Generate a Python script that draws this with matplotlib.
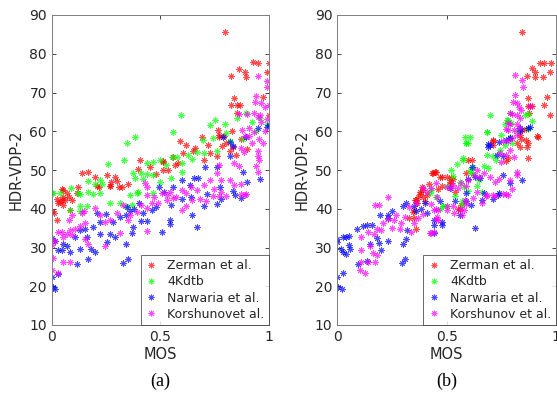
import numpy as np
import matplotlib.pyplot as plt

# (MOS, HDR-VDP-2) pairs, panel (a)
zerman_a = [(0.797,85.5),(0.863,76.1),(0.824,74.3),(0.89,75.2),(0.893,74.1),(0.925,77.8),(0.948,77.7),(0.999,77.7),(0.989,75.2),(0.974,68.8),(0.84,68.6),(0.827,66.7),(0.851,66.7),(0.867,66.7),(0.854,64.6),(1.0,64.2),(0.831,60.1),(0.764,60.3),(0.768,59.0),(0.794,58.8),(0.69,58.4),(0.59,57.6),(0.652,54.9),(0.728,54.3),(0.759,53.6),(0.848,53.9),(0.836,56.0),(0.784,56.2),(0.606,54.3),(0.56,53.4),(0.511,52.4),(0.396,50.3),(0.406,52.6),(0.514,50.0),(0.537,50.0),(0.583,51.7),(0.701,52.6),(0.141,49.1),(0.168,49.6),(0.2,48.1),(0.215,45.7),(0.253,48.7),(0.272,47.0),(0.291,48.3),(0.299,47.2),(0.311,45.7),(0.325,45.5),(0.268,46.0),(0.12,45.7),(0.049,45.1),(0.069,44.0),(0.081,43.1),(0.023,42.4),(0.0,39.4),(0.01,39.0),(0.03,41.4),(0.046,42.3),(0.053,43.1),(0.084,39.7),(0.04,41.7),(0.092,42.3),(0.115,44.0),(0.023,37.1),(0.061,42.3),(0.053,41.0),(0.053,44.8),(0.207,45.9),(0.268,45.9),(0.567,51.3),(0.514,52.1),(0.77,58.5),(0.80,57.0),(0.82,55.0),(0.87,58.0),(0.90,55.5),(0.72,56.5),(0.66,55.8),(0.62,56.5),(0.45,50.8),(0.48,49.0),(0.35,46.5)]
kdtb_a = [(0.595,64.2),(0.383,58.4),(0.345,56.9),(0.334,52.6),(0.261,51.5),(0.56,59.9),(0.728,61.6),(0.751,62.9),(0.694,57.7),(0.744,58.2),(0.8,59.5),(0.851,63.3),(0.894,64.6),(0.797,62.0),(0.70,54.5),(0.552,53.4),(0.575,53.4),(0.598,51.9),(0.629,53.9),(0.498,52.6),(0.468,52.1),(0.44,51.7),(0.376,49.1),(0.41,49.1),(0.44,49.0),(0.465,48.7),(0.385,48.0),(0.418,47.8),(0.468,44.0),(0.397,44.3),(0.222,47.4),(0.23,46.3),(0.2,46.3),(0.168,47.2),(0.089,45.3),(0.003,44.0),(0.039,44.0),(0.122,44.0),(0.13,43.8),(0.168,44.3),(0.19,43.9),(0.222,44.0),(0.526,51.4),(0.645,52.8),(0.667,54.6),(0.007,44.0),(0.084,39.7),(0.13,39.3),(0.13,40.6),(0.16,40.8),(0.268,41.4),(0.314,41.6),(0.34,40.6),(0.37,41.0),(0.39,44.0),(0.92,62.5),(0.96,63.5),(0.99,62.0),(0.94,60.0),(0.88,58.0),(0.82,57.5),(0.76,55.0),(0.6,49.5),(0.55,48.0),(0.5,47.0),(0.36,43.5)]
narwaria_a = [(0.0,22.3),(0.007,19.7),(0.015,19.2),(0.03,23.2),(0.0,32.5),(0.015,31.8),(0.03,29.4),(0.046,29.4),(0.053,30.8),(0.084,28.9),(0.069,30.4),(0.107,32.6),(0.13,29.7),(0.115,25.8),(0.168,27.1),(0.18,29.7),(0.2,28.8),(0.13,34.4),(0.153,34.8),(0.161,32.7),(0.19,35.3),(0.22,33.6),(0.222,36.7),(0.207,39.0),(0.25,38.6),(0.253,31.4),(0.27,33.5),(0.29,32.6),(0.284,36.7),(0.314,37.9),(0.34,38.3),(0.345,40.4),(0.33,25.9),(0.352,27.1),(0.342,31.0),(0.37,33.8),(0.376,35.4),(0.41,36.9),(0.44,36.9),(0.42,38.8),(0.46,39.7),(0.48,40.5),(0.506,34.1),(0.545,37.0),(0.545,36.0),(0.645,38.4),(0.667,35.3),(0.7,40.8),(0.76,41.2),(0.78,42.4),(0.87,42.8),(0.844,43.5),(0.492,45.7),(0.515,44.4),(0.56,45.7),(0.598,47.3),(0.656,47.9),(0.675,47.9),(0.706,50.9),(0.76,50.9),(0.787,58.6),(0.821,57.3),(0.896,58.6),(0.951,60.8),(0.99,61.1),(1.0,61.5),(0.958,47.7),(0.897,46.8),(0.836,44.7),(0.882,49.6),(0.836,56.2),(0.822,53.7),(0.776,45.7),(0.713,43.9),(0.637,46.1),(0.38,40.0),(0.40,41.5),(0.36,39.5),(0.55,41.0),(0.6,42.5),(0.64,43.0)]
korshunov_a = [(0.0,24.2),(0.007,27.2),(0.0,30.6),(0.015,31.6),(0.03,23.5),(0.03,34.1),(0.046,34.1),(0.053,32.8),(0.069,33.6),(0.084,34.4),(0.053,26.3),(0.084,26.3),(0.095,33.2),(0.107,34.8),(0.13,35.5),(0.153,36.4),(0.08,37.0),(0.095,38.3),(0.14,39.0),(0.15,39.4),(0.2,40.3),(0.22,38.5),(0.245,36.6),(0.153,32.3),(0.168,30.8),(0.245,30.3),(0.314,33.8),(0.437,34.3),(0.35,37.1),(0.36,38.3),(0.39,39.2),(0.44,40.2),(0.49,41.5),(0.53,42.3),(0.56,42.8),(0.6,39.7),(0.62,40.8),(0.645,42.2),(0.68,42.6),(0.71,41.9),(0.74,43.3),(0.77,43.3),(0.8,43.3),(0.895,43.7),(0.87,43.7),(0.951,74.3),(0.99,72.9),(0.989,71.5),(0.94,69.2),(0.936,67.5),(0.965,67.2),(0.98,66.3),(1.0,66.9),(0.86,64.5),(0.9,64.5),(0.93,64.8),(0.96,64.3),(0.875,60.3),(0.91,60.8),(0.93,59.9),(0.89,58.7),(0.91,58.7),(0.95,63.6),(0.965,62.3),(0.99,63.1),(0.955,58.0),(0.95,53.5),(0.95,55.0),(0.95,49.5),(0.94,51.0),(0.955,52.6),(0.87,55.6),(0.885,54.6),(0.86,51.1),(0.77,51.3),(0.76,49.1),(0.78,47.5),(0.82,47.5),(0.84,46.1),(0.87,46.3),(0.89,43.6),(0.78,44.4),(0.745,45.2),(0.7,46.2),(0.73,47.5),(0.67,44.9),(0.64,45.6),(0.62,44.0),(0.6,44.8),(0.57,43.1),(0.545,44.4),(0.53,43.6),(0.506,44.1),(0.47,43.1),(0.44,43.6),(0.43,46.6),(0.44,45.6),(0.84,51.8),(0.3,39.0),(0.33,41.0),(0.41,41.0),(0.46,41.5),(0.27,37.0),(0.97,57.0),(0.92,57.0),(0.98,60.0)]

# panel (b)
zerman_b = [(0.843,85.7),(0.927,77.7),(0.945,77.7),(0.976,77.7),(0.889,76.2),(0.904,75.2),(0.904,74.0),(0.866,74.3),(0.942,74.1),(0.972,75.2),(0.957,68.9),(0.947,66.9),(0.873,68.7),(0.87,66.5),(0.88,66.5),(0.89,66.5),(0.973,64.2),(0.877,64.7),(0.912,58.9),(0.92,58.4),(0.863,60.7),(0.835,59.0),(0.843,60.4),(0.862,57.8),(0.87,57.0),(0.71,57.5),(0.432,49.1),(0.447,49.6),(0.47,48.3),(0.5,48.3),(0.515,47.0),(0.53,47.8),(0.59,49.1),(0.614,52.6),(0.6,52.6),(0.713,57.7),(0.71,56.4),(0.82,56.9),(0.835,56.0),(0.78,53.0),(0.77,52.2),(0.84,58.0),(0.866,56.0),(0.87,53.2),(0.378,44.4),(0.39,43.1),(0.41,43.5),(0.477,45.8),(0.538,44.4),(0.553,40.0),(0.56,39.6),(0.36,42.3),(0.368,43.1),(0.345,39.2),(0.36,34.9),(0.35,37.5),(0.436,49.1),(0.45,49.6),(0.48,48.3),(0.52,47.9),(0.52,46.6),(0.39,44.8),(0.388,45.7),(0.363,41.4),(0.355,42.3),(0.38,43.7),(0.35,39.7),(0.33,37.6),(0.565,41.0),(0.40,42.0),(0.42,46.5),(0.46,45.0)]
kdtb_b = [(0.7,64.3),(0.686,59.9),(0.607,58.5),(0.589,57.0),(0.775,63.0),(0.766,61.9),(0.794,62.1),(0.873,64.4),(0.89,62.6),(0.86,64.3),(0.873,60.6),(0.683,59.9),(0.6,57.0),(0.546,51.6),(0.575,52.7),(0.607,50.0),(0.61,49.1),(0.62,50.8),(0.67,51.1),(0.683,53.9),(0.71,53.5),(0.725,52.6),(0.69,50.4),(0.744,55.2),(0.767,56.5),(0.79,58.5),(0.47,40.0),(0.485,40.8),(0.56,47.0),(0.66,44.4),(0.424,44.0),(0.43,44.8),(0.485,40.6),(0.5,40.6),(0.57,41.0),(0.57,41.9),(0.54,43.4),(0.6,44.5),(0.584,58.6),(0.59,56.9),(0.576,53.0),(0.52,50.0),(0.62,49.0),(0.78,63.0),(0.79,64.6),(0.82,60.0),(0.80,57.0),(0.75,59.0),(0.65,47.5),(0.50,46.0),(0.45,43.0),(0.53,48.5),(0.58,45.5),(0.64,46.0)]
narwaria_b = [(0.0,22.3),(0.005,19.9),(0.02,19.2),(0.025,23.5),(0.0,32.2),(0.0,31.4),(0.027,32.6),(0.04,32.8),(0.055,33.0),(0.015,29.7),(0.025,28.9),(0.04,28.4),(0.055,30.6),(0.06,29.6),(0.09,34.9),(0.096,25.8),(0.116,35.5),(0.135,35.9),(0.135,26.6),(0.157,35.9),(0.15,30.8),(0.18,32.4),(0.195,38.5),(0.19,31.2),(0.2,29.3),(0.233,38.5),(0.23,31.6),(0.23,37.7),(0.25,39.4),(0.294,25.9),(0.31,27.1),(0.3,30.8),(0.315,32.2),(0.32,34.4),(0.3,40.6),(0.315,41.4),(0.35,40.8),(0.385,40.0),(0.41,38.8),(0.44,37.2),(0.44,35.9),(0.44,33.8),(0.477,36.7),(0.477,35.8),(0.54,41.9),(0.56,38.5),(0.59,41.9),(0.61,41.0),(0.63,35.1),(0.66,42.3),(0.71,42.6),(0.736,43.5),(0.616,50.9),(0.69,56.0),(0.7,56.4),(0.729,53.9),(0.76,53.7),(0.79,58.2),(0.835,60.8),(0.88,61.2),(0.843,47.4),(0.79,46.7),(0.757,48.6),(0.652,47.9),(0.63,48.1),(0.6,47.8),(0.515,45.3),(0.59,44.0),(0.67,44.0),(0.74,44.0),(0.873,60.8),(0.835,60.0),(0.79,58.3),(0.77,57.8),(0.74,57.1),(0.69,56.6),(0.36,39.5),(0.40,41.5),(0.47,42.0)]
korshunov_b = [(0.127,23.4),(0.104,24.2),(0.11,26.3),(0.142,26.3),(0.172,26.3),(0.165,28.5),(0.18,28.0),(0.15,30.3),(0.11,29.4),(0.11,32.6),(0.14,34.1),(0.17,33.4),(0.18,34.9),(0.2,34.6),(0.172,41.0),(0.19,41.0),(0.233,43.1),(0.21,36.2),(0.23,37.4),(0.26,37.2),(0.27,38.4),(0.29,36.4),(0.285,34.8),(0.336,34.0),(0.35,36.2),(0.37,37.5),(0.39,38.7),(0.424,33.8),(0.44,34.0),(0.45,37.4),(0.46,39.6),(0.5,39.6),(0.535,38.8),(0.56,40.0),(0.59,41.2),(0.66,41.6),(0.68,43.3),(0.72,43.3),(0.77,43.7),(0.78,43.6),(0.57,38.4),(0.812,74.5),(0.843,73.2),(0.848,71.5),(0.812,69.4),(0.805,67.6),(0.82,67.2),(0.83,66.2),(0.84,65.5),(0.79,64.6),(0.8,64.4),(0.82,64.2),(0.835,63.4),(0.78,62.1),(0.79,61.8),(0.82,62.0),(0.83,60.9),(0.81,60.2),(0.82,59.0),(0.78,60.2),(0.77,60.6),(0.8,58.3),(0.78,57.4),(0.88,66.5),(0.76,57.4),(0.744,54.3),(0.77,53.8),(0.75,52.0),(0.79,55.2),(0.81,53.4),(0.82,48.7),(0.82,49.5),(0.79,47.3),(0.74,47.8),(0.72,46.9),(0.7,48.3),(0.67,49.1),(0.65,48.3),(0.64,50.0),(0.625,48.7),(0.6,47.4),(0.59,45.8),(0.565,46.6),(0.55,45.3),(0.53,46.1),(0.52,45.3),(0.5,45.7),(0.45,46.6),(0.43,45.3),(0.41,44.4),(0.39,45.3),(0.455,43.1),(0.45,40.0),(0.44,39.6),(0.43,41.2),(0.455,37.9),(0.46,37.1),(0.43,33.8),(0.637,44.4),(0.685,43.5),(0.71,43.5),(0.76,43.9),(0.8,45.1),(0.584,42.3),(0.62,42.7),(0.58,39.8),(0.53,40.6),(0.5,40.6),(0.33,40.5),(0.36,41.5),(0.31,38.0),(0.25,35.0)]

colors = ['#ff0000', '#00ff00', '#0000ff', '#ff00ff']
labels_a = ['Zerman et al.', '4Kdtb', 'Narwaria et al.', 'Korshunovet al.']
labels_b = ['Zerman et al.', '4Kdtb', 'Narwaria et al.', 'Korshunov et al.']
asterisk = (8, 2, 0)
axcol = '#262626'

fig = plt.figure(figsize=(5.57, 4.0), dpi=100)
ax_a = fig.add_axes([0.093, 0.1875, 0.390, 0.775])
ax_b = fig.add_axes([0.6056, 0.1875, 0.3925, 0.775])

panels = [(ax_a, [zerman_a, kdtb_a, narwaria_a, korshunov_a], labels_a, '(a)'),
          (ax_b, [zerman_b, kdtb_b, narwaria_b, korshunov_b], labels_b, '(b)')]

for ax, sets, labels, cap in panels:
    for pts, c, lab in zip(sets, colors, labels):
        arr = np.array(pts)
        ax.plot(arr[:, 0], arr[:, 1], linestyle='none', marker=asterisk,
                color=c, markersize=4.5, markeredgewidth=0.7, alpha=0.7, label=lab)
    ax.set_xlim(0, 1)
    ax.set_ylim(10, 90)
    ax.set_xticks([0, 0.5, 1])
    ax.set_xticklabels(['0', '0.5', '1'])
    ax.set_yticks(range(10, 91, 10))
    ax.tick_params(direction='in', length=3, width=0.6, colors=axcol,
                   labelsize=10, top=True, right=True, labeltop=False, labelright=False)
    for s in ax.spines.values():
        s.set_color('#7f7f7f')
        s.set_linewidth(0.7)
    ax.set_xlabel('MOS', fontsize=10.5, color=axcol, labelpad=2)
    ax.set_ylabel('HDR-VDP-2', fontsize=10.5, color=axcol, labelpad=4)
    leg = ax.legend(loc='lower right', fontsize=9, frameon=True, fancybox=False,
                    borderpad=0.35, labelspacing=0.25, handlelength=1.0,
                    handletextpad=0.8, borderaxespad=0, markerscale=0.9)
    leg.get_frame().set_edgecolor('#262626')
    leg.get_frame().set_linewidth(0.6)
    for t in leg.get_texts():
        t.set_color(axcol)
    pos = ax.get_position()
    fig.text((pos.x0 + pos.x1) / 2, 0.025, cap, ha='center', va='bottom',
             fontsize=13, family='Liberation Serif')

fig.savefig('out.png', dpi=100)
